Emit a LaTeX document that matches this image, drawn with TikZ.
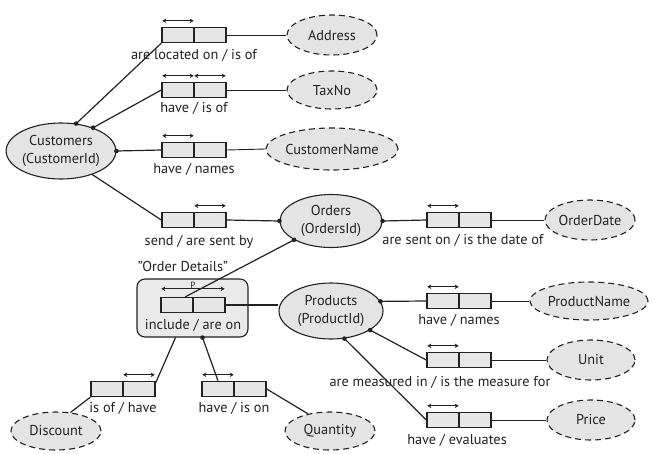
\documentclass[tikz,border=0pt]{standalone}
\usepackage{fontspec}
\setmainfont{PT Sans}
\usetikzlibrary{shapes.geometric,arrows.meta,calc}
\definecolor{linec}{HTML}{222222}
\definecolor{entfill}{HTML}{E4E4E4}
\definecolor{rolefill}{HTML}{E6E6E6}
\definecolor{odfill}{HTML}{EAEAEA}
\begin{document}
\begin{tikzpicture}[x=1pt,y=-1pt,
  every node/.style={font=\fontsize{14.3}{18}\selectfont, text=linec},
  role/.style={draw=linec, fill=rolefill, minimum width=32pt, minimum height=15pt, inner sep=0pt, line width=1.4pt},
  ent/.style={ellipse, draw=linec, fill=entfill, line width=1.1pt, inner sep=0pt, align=center},
  val/.style={ellipse, draw=linec, fill=entfill, line width=1.1pt, inner sep=0pt, dash pattern=on 6pt off 4pt},
  lab/.style={inner sep=0pt},
  conn/.style={draw=linec, line width=1.2pt},
  aconn/.style={draw=linec, line width=0.9pt},
  uarr/.style={draw=linec, line width=1.2pt, {Stealth[length=4pt,width=4.5pt]}-{Stealth[length=4pt,width=4.5pt]}},
  dotc/.style={fill=linec}
]
\useasboundingbox (0,0) rectangle (655,453);
\fill[white] (0,0) rectangle (655,453);

% entities
\node[ent, minimum width=101pt, minimum height=56pt] (cust) at (61,151) {Customers\\(CustomerId)};
\node[ent, minimum width=102pt, minimum height=53pt] (ord) at (331,221) {Orders\\(OrdersId)};
\node[ent, minimum width=104pt, minimum height=56pt] (prod) at (331,311) {Products\\(ProductId)};

% value types
\node[val, minimum width=90pt, minimum height=40pt] (address) at (332,35) {Address};
\node[val, minimum width=90pt, minimum height=38pt] (taxno) at (332,90) {TaxNo};
\node[val, minimum width=118pt, minimum height=42pt] (cname) at (332,149) {CustomerName};
\node[val, minimum width=90pt, minimum height=40pt] (odate) at (590,220) {OrderDate};
\node[val, minimum width=118pt, minimum height=38pt] (pname) at (589,301) {ProductName};
\node[val, minimum width=88pt, minimum height=40pt] (unit) at (591,360) {Unit};
\node[val, minimum width=88pt, minimum height=40pt] (price) at (591,420) {Price};
\node[val, minimum width=90pt, minimum height=38pt] (disc) at (56,431) {Discount};
\node[val, minimum width=90pt, minimum height=38pt] (qty) at (330,431) {Quantity};

% objectified fact type box
\node[draw=linec, fill=odfill, rounded corners=8pt, line width=1.1pt, minimum width=111pt, minimum height=58pt, inner sep=0pt] (od) at (192.5,308) {};
\node[lab] (odname) at (183,266) {"Order Details"};

% fact types (role boxes)
\foreach \n/\x/\y in {fa/162/35, ft/162/90, fc/162/150, fs/162/220, fo/427/220, fi/161/305, fp/427/301, fu/427/360, fr/427/420, fd/91/389, fq/202/389}{
  \node[role] (\n-l) at (\x+16,\y) {};
  \node[role] (\n-r) at (\x+48,\y) {};
}

% labels
\node[lab] (fa-t) at (194,55) {are located on / is of};
\node[lab] (ft-t) at (194,108) {have / is of};
\node[lab] (fc-t) at (194,169) {have / names};
\node[lab] (fs-t) at (199,242) {send / are sent by};
\node[lab] (fo-t) at (463,240) {are sent on / is the date of};
\node[lab] (fi-t) at (193,325) {include / are on};
\node[lab] (fp-t) at (459,320) {have / names};
\node[lab] (fu-t) at (440,382) {are measured in / is the measure for};
\node[lab] (fr-t) at (457,440) {have / evaluates};
\node[lab] (fd-t) at (123,408) {is of / have};
\node[lab] (fq-t) at (234,408) {have / is on};
\node[lab, font=\fontsize{9}{10}\selectfont] (pmark) at (193,285) {P};

% uniqueness arrows
\foreach \r in {fa-l, ft-l, ft-r, fc-l, fs-r, fo-l, fp-l, fu-l, fr-l, fd-r, fq-l}{
  \draw[uarr] ([xshift=1pt,yshift=6pt]\r.north west) -- ([xshift=-1pt,yshift=6pt]\r.north east);
}
\draw[uarr] ([xshift=1pt,yshift=8pt]fi-l.north west) -- ([xshift=-1pt,yshift=8pt]fi-r.north east);

% connectors from Customers
\draw[conn] (cust.61) -- (fa-l.south west);
\draw[conn] (cust.36) -- (ft-l.west);
\draw[conn] (cust.east) -- (fc-l.west);
\draw[conn] (cust.-37) -- (fs-l.west);
\fill[dotc] (cust.61) circle (2.3pt);
\fill[dotc] (cust.36) circle (2.3pt);
\fill[dotc] (cust.east) circle (2.3pt);

% Orders
\draw[conn] (fs-r.east) -- (ord.west);
\fill[dotc] (ord.west) circle (2.3pt);
\draw[conn] (ord.east) -- (fo-l.west);
\fill[dotc] (ord.east) circle (2.3pt);
\coordinate (inclp) at ($(fi-l.north west)!0.75!(fi-l.north east)$);
\draw[conn] (ord.207) -- (inclp);
\fill[dotc] (ord.207) circle (2.3pt);

% Order details to Products
\draw[conn] (fi-r.east) -- (fi-r.east -| prod.west);

% Products
\draw[conn] (prod.11) -- (fp-l.west);
\fill[dotc] (prod.11) circle (2.3pt);
\draw[conn] (prod.-26) -- (fu-l.west);
\fill[dotc] (prod.-26) circle (2.3pt);
\draw[conn] (prod.-64) -- (fr-l.west);
\fill[dotc] (prod.-64) circle (2.3pt);

% Order details down
\coordinate (odd) at ($(od.south)+(-17,0)$);
\coordinate (odq) at ($(od.south)+(10,0)$);
\draw[conn] (odd) -- ([yshift=-2pt]fd-r.north east);
\draw[conn] (odq) -- (fq-l.north);
\fill[dotc] (odq) circle (2.3pt);

% attribute connectors
\draw[aconn] (fa-r.east) -- (address.west);
\draw[aconn] (ft-r.east) -- (taxno.west);
\draw[aconn] (fc-r.east) -- (cname.west);
\draw[aconn] (fo-r.east) -- (odate.west);
\draw[aconn] (fp-r.east) -- (pname.west);
\draw[aconn] (fu-r.east) -- (unit.west);
\draw[aconn] (fr-r.east) -- (price.west);
\draw[conn] (fd-l.south west) -- (disc.52);
\draw[conn] (fq-r.east) -- (qty.142);
\end{tikzpicture}
\end{document}
